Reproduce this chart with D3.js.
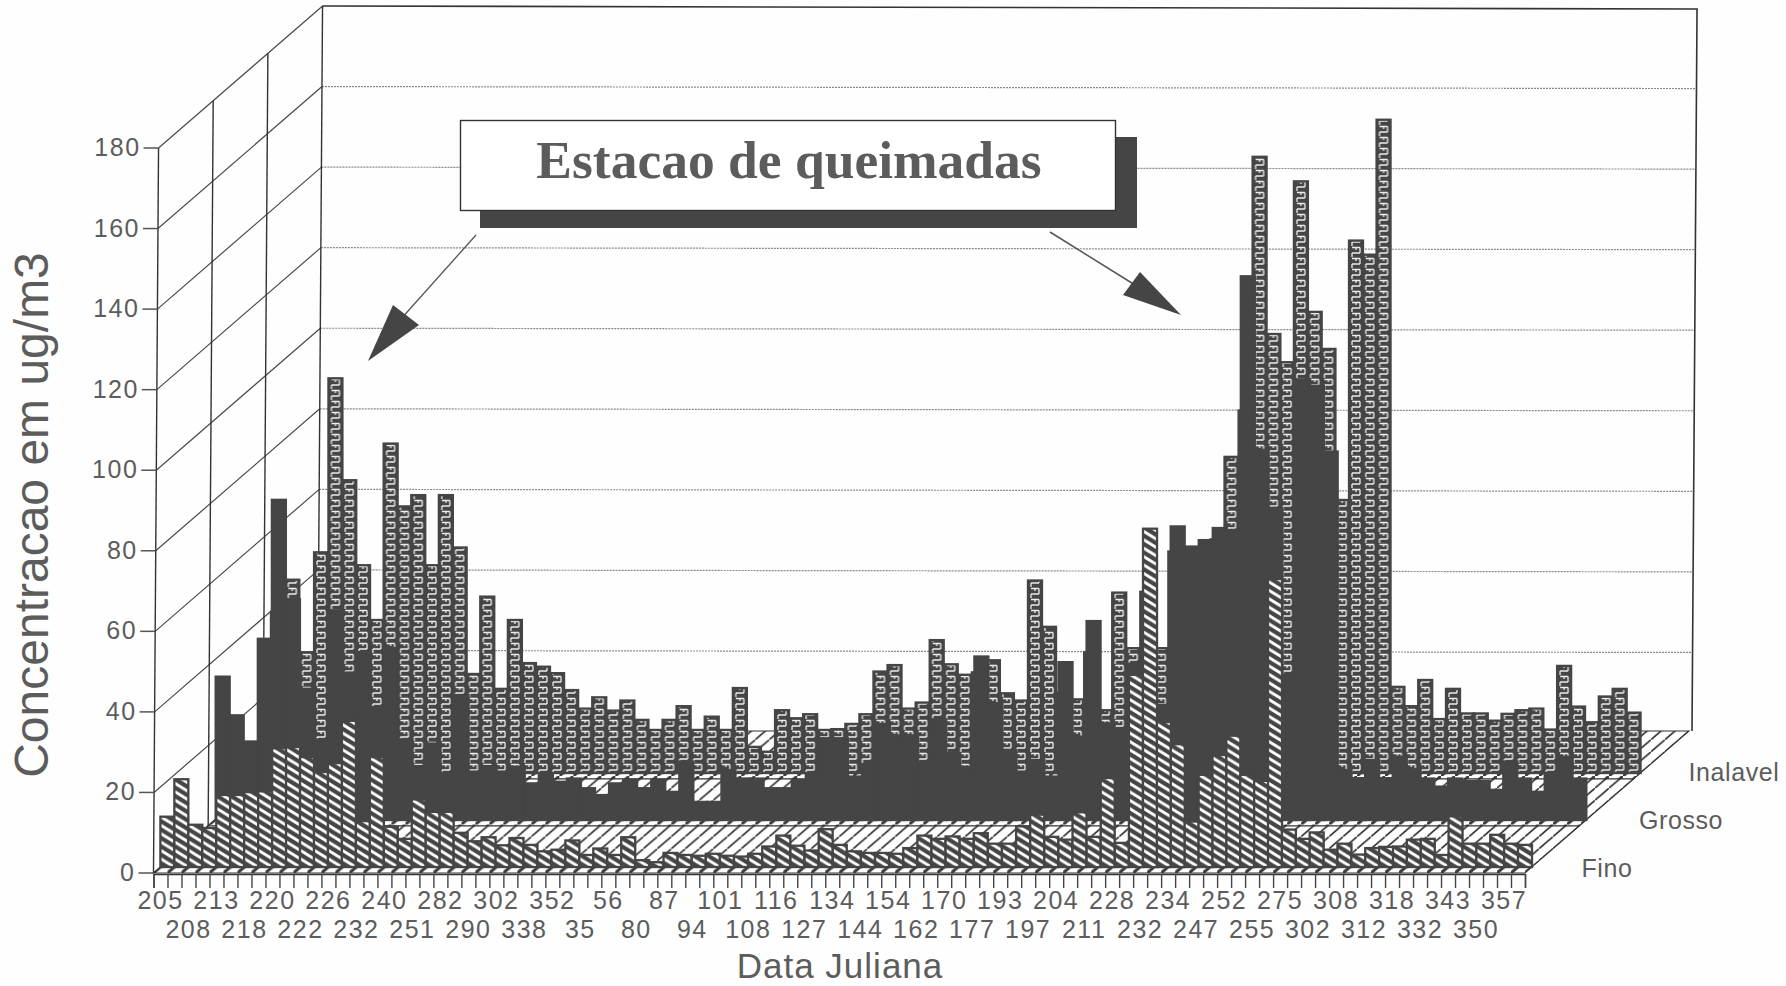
<!DOCTYPE html>
<html><head><meta charset="utf-8">
<script src="https://cdn.jsdelivr.net/npm/d3@7/dist/d3.min.js"></script>
<style>html,body{margin:0;padding:0;background:#fefefe}svg{display:block}text{font-family:"Liberation Sans",sans-serif;fill:#5c5c5c}</style>
</head><body><svg id="c" width="1786" height="986"></svg>
<script>
const yTicks=[0,20,40,60,80,100,120,140,160,180];
const labelsUpper=["205","213","220","226","240","282","302","352","56","87","101","116","134","154","170","193","204","228","234","252","275","308","318","343","357"];
const labelsLower=["208","218","222","232","251","290","338","35","80","94","108","127","144","162","177","197","211","232","247","255","302","312","332","350"];
const seriesNames=["Fino","Grosso","Inalavel"];
const fino=[12.5,21.8,10.5,9.7,17.9,17.9,18.6,18.8,29.5,29.8,27.3,23.6,25.8,36.3,11.4,27.3,10,7,16.8,13.7,13.7,8.5,6.4,7.4,5.4,7.2,5.5,3.9,4.3,6.6,3,4.6,3,7.4,1.7,1.2,3.5,3,2.8,3.3,2.8,2.6,3.3,5.1,7.8,5.3,4.1,9.4,5.5,3.9,3.5,3.5,3.3,4.7,7.8,7,7.6,7,8.4,5.8,5.8,10.1,13,7.5,6.8,13.6,7.5,22.1,6,47.7,84,36,30.5,11.3,22.9,27.8,32.6,22.9,21.4,71.5,9.3,7,8.6,4.3,5.8,3.1,4.7,5,5.1,6.8,7,3,12.6,5.8,5.8,8,5.8,5.5];
const grosso=[35.6,26,19.5,45,79.5,54.8,32.6,20,52,36.6,41.7,28,42.7,20,13.4,19,11.4,31,12,13.4,12,13.2,9.1,11.2,9.5,10.3,7.9,6.2,9.1,10,7.9,10,7,14.5,4.5,4.5,12.4,10.3,10.3,7.9,7.9,9.9,11.6,20.3,20.3,10.8,13.9,23.8,21,21,14.5,25,16.6,13.2,40.6,29,17.4,12,14.9,10.8,39.2,20.7,49.4,24,22.8,38.8,45,28.6,72.9,67.9,69.5,72.5,72,135,91.9,77.5,36,109.3,107.8,91.5,12.4,10.4,14.9,10.4,15.7,12.6,10.3,8.3,10.3,9.7,9.7,7.5,14.5,10.3,7,11.4,15.7,10.3];
const inalavel=[40,48,30,54.8,98,72.7,51.6,38,81.8,66.2,69,51.6,69,56,24.6,43.8,20.9,38,27.3,26.4,24.8,20.6,16,18.8,15.5,18,13.2,10.7,13.2,16.6,10.7,14,10.7,21.1,6.5,5.3,15.6,13.6,14.6,10.7,10.9,12.2,14.6,25.2,26.8,16,17.5,33,27,24.4,25,28,19.8,18,47.8,36.3,20,18.3,30,15.6,44.8,31,45,31,55,50,55,58,78.5,90,153,109,102,146.9,114.5,105.3,67.8,132.2,128.7,162.2,21.4,16.6,23.1,13.4,20.9,14.8,14.8,13,14.7,15.6,16,10.8,26.6,16.5,12.6,19,20.9,15];
const titleText="Estacao de queimadas";
const yTitle="Concentracao em ug/m3";
const xTitle="Data Juliana";

const n=fino.length, svg=d3.select("#c");
const DARK="#454545";
const x=d3.scaleLinear().domain([0,n]).range([153.5,1525]);
const y=d3.scaleLinear().domain([0,180]).range([873,148]);
const depthX=d3.scaleLinear().domain([0,1]).range([0,164]);
const depthY=d3.scaleLinear().domain([0,1]).range([0,142]);
const lean=v=>v*0.028;
const P=(i,d,v)=>[x(i)+depthX(d)+lean(v),y(v)-depthY(d)];
const p=x(1)-x(0), tileH=p*142/164;
const rowDepth=[0.042,0.373,0.704];
// the scanned original drifts slightly along each row
const drift=[
 d3.scaleLinear().domain([0,33,70,98]).range([0,-1,3,0]),
 d3.scaleLinear().domain([0,54,73,98]).range([1,4,4.5,0]),
 d3.scaleLinear().domain([0,4,17,47,70,79,98]).range([2,3.5,1,3,4,2,0])
];
const line=d3.line();

const defs=svg.append("defs");
function pat(id,w,h,tx,ty){return defs.append("pattern").attr("id",id).attr("patternUnits","userSpaceOnUse").attr("width",w).attr("height",h).attr("patternTransform",`translate(${tx},${ty})`);}
const hp=pat("hatch",p,8.4,x(0)+depthX(rowDepth[0]),y(0)-depthY(rowDepth[0]));
hp.append("rect").attr("width",p).attr("height",8.4).attr("fill",DARK);
hp.append("path").attr("d",`M0 -8.4L${p} 0M0 0L${p} 8.4M0 8.4L${p} 16.8`).attr("stroke","#fff").attr("stroke-width",3);
const bp=pat("brick",p,11,x(0)+depthX(rowDepth[2]),y(0));
bp.append("rect").attr("width",p).attr("height",11).attr("fill",DARK);
bp.append("path").attr("d","M3 1.5H11M11 1.5V7M3 7H11M3 7V12.5M7 4V1.5").attr("stroke","#ececec").attr("stroke-width",1.3).attr("fill","none");
const fp=pat("floor",p,tileH,x(0),y(0));
fp.append("rect").attr("width",p).attr("height",tileH).attr("fill","#fff");
fp.append("path").attr("d",`M0 ${tileH}L${p} 0`).attr("stroke","#333").attr("stroke-width",1.6);
const sp=pat("strip",p,tileH,x(0),y(0));
sp.append("rect").attr("width",p).attr("height",tileH).attr("fill","#fff");
sp.append("path").attr("d",`M0 ${tileH}L${p} 0`).attr("stroke","#3a3a3a").attr("stroke-width",3);

const wall=svg.append("g");
wall.selectAll("line.g").data(yTicks.slice(1,-1)).join("line")
 .attr("x1",v=>P(0,1,v)[0]).attr("y1",v=>P(0,1,v)[1]).attr("x2",v=>P(n,1,v)[0]+3).attr("y2",v=>P(n,1,v)[1]+2)
 .attr("stroke","#8a8a8a").attr("stroke-width",1.2).attr("stroke-dasharray","2 1");
wall.selectAll("path.l").data(yTicks).join("path")
 .attr("d",v=>line([P(0,0,v),P(0,1,v)])).attr("stroke","#4a4a4a").attr("stroke-width",1.2).attr("fill","none");
wall.selectAll("path.v").data([0,1/3,2/3,1]).join("path")
 .attr("d",d=>line([P(0,d,0),P(0,d,180)])).attr("stroke","#333").attr("stroke-width",1.4).attr("fill","none");
wall.append("path").attr("d",line([P(0,1,180),[P(n,1,180)[0]+3,P(n,1,180)[1]+3],[P(n,1,0)[0]+3,P(n,1,0)[1]]])).attr("stroke","#333").attr("stroke-width",1.6).attr("fill","none");

const bands=[[0.704,1,"floor"],[0.662,0.704,"strip"],[0.373,0.662,"floor"],[0.331,0.373,"strip"],[0.042,0.331,"floor"],[0,0.042,"strip"]];
const floor=svg.append("g");
floor.selectAll("path").data(bands).join("path")
 .attr("d",b=>line([P(0,b[0],0),P(n,b[0],0),P(n,b[1],0),P(0,b[1],0)])+"Z")
 .attr("fill",b=>`url(#${b[2]})`).attr("stroke","#333").attr("stroke-width",1.1);

const rows=[[inalavel,2,"url(#brick)"],[grosso,1,DARK],[fino,0,"url(#hatch)"]];
rows.forEach(([vals,r,fill])=>{
 const d=rowDepth[r];
 svg.append("g").attr("class","s"+r).selectAll("rect").data(vals).join("rect")
  .attr("transform",(v,i)=>`translate(${drift[r](i)},0)`)
  .attr("x",(v,i)=>x(i)+depthX(d)).attr("y",v=>y(v)-depthY(d))
  .attr("width",p).attr("height",v=>y(0)-y(v))
  .attr("fill",fill).attr("stroke",DARK).attr("stroke-width",2.3);
});

const ya=svg.append("g").attr("transform",`translate(${x(0)},0)`).call(d3.axisLeft(y).tickValues(yTicks).tickSize(15).tickPadding(3).tickFormat(d3.format("d")));
ya.select(".domain").remove();
ya.selectAll(".tick").attr("transform",v=>`translate(${lean(v)},${y(v)})`);
ya.selectAll("line").attr("stroke","#555").attr("stroke-width",1.5);
ya.selectAll("text").style("font-size","25px").style("letter-spacing","1.5px").attr("fill","#5c5c5c");

const xa=svg.append("g").attr("transform",`translate(0,${y(0)+1})`).call(d3.axisBottom(x).tickValues(d3.range(0,n+1)).tickSize(14).tickFormat(""));
xa.select(".domain").attr("stroke","#333").attr("stroke-width",1.4);
xa.selectAll("line").attr("stroke","#444").attr("stroke-width",1.4);
const lab=svg.append("g").attr("text-anchor","middle").style("font-size","25px").style("letter-spacing","1.5px");
lab.selectAll("text.u").data(labelsUpper).join("text").attr("x",(t,l)=>x(4*l+0.5)).attr("y",909).text(t=>t);
lab.selectAll("text.w").data(labelsLower).join("text").attr("x",(t,l)=>x(4*l+2.5)).attr("y",938).text(t=>t);

svg.append("text").attr("transform","translate(48,515) rotate(-90)").attr("text-anchor","middle").style("font-size","48px").text(yTitle);
svg.append("text").attr("x",840).attr("y",978).attr("text-anchor","middle").style("font-size","35px").style("letter-spacing","1px").text(xTitle);

const lblPos=[[1607,877],[1681,829],[1734,781]];
svg.append("g").attr("text-anchor","middle").style("font-size","25px").style("letter-spacing","0.6px").selectAll("text").data(seriesNames).join("text")
 .attr("x",(t,i)=>lblPos[i][0]).attr("y",(t,i)=>lblPos[i][1]).text(t=>t);

const ann=svg.append("g");
ann.append("rect").attr("x",480).attr("y",137).attr("width",657).attr("height",91).attr("fill",DARK);
ann.append("rect").attr("x",460.5).attr("y",120.5).attr("width",655).attr("height",90).attr("fill","#fff").attr("stroke","#333").attr("stroke-width",1.4);
ann.append("text").attr("x",789).attr("y",178).attr("text-anchor","middle").style("font-family","'Liberation Serif',serif").style("font-weight","bold").style("font-size","53.5px").text(titleText);
ann.append("line").attr("x1",476).attr("y1",235).attr("x2",400).attr("y2",320).attr("stroke","#555").attr("stroke-width",1.3);
ann.append("path").attr("d","M368 361L393 305L419 325Z").attr("fill",DARK);
ann.append("line").attr("x1",1050).attr("y1",232).attr("x2",1135).attr("y2",285).attr("stroke","#555").attr("stroke-width",1.5);
ann.append("path").attr("d","M1181 315L1140 272L1123 295Z").attr("fill",DARK);
</script></body></html>
